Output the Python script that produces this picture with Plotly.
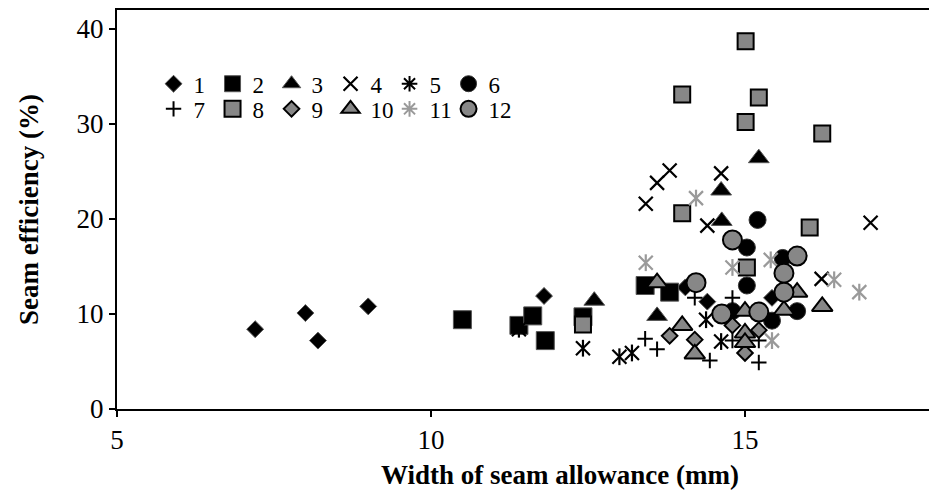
import plotly.graph_objects as go

# ---------------- data ----------------
names = ["1", "2", "3", "4", "5", "6", "7", "8", "9", "10", "11", "12"]

x1 = [7.2, 8.0, 8.2, 9.0, 11.8, 14.05, 14.4, 15.43]
y1 = [8.4, 10.1, 7.2, 10.8, 11.9, 12.8, 11.3, 11.7]

x2 = [10.5, 11.4, 11.62, 11.82, 12.42, 13.41, 13.8]
y2 = [9.4, 8.8, 9.8, 7.2, 9.7, 13.0, 12.3]

x3 = [12.6, 13.6, 14.62, 14.63, 15.22]
y3 = [11.4, 9.8, 23.0, 19.8, 26.4]

x4 = [13.42, 13.6, 13.8, 14.62, 14.4, 16.22, 17.0]
y4 = [21.6, 23.8, 25.1, 24.8, 19.3, 13.7, 19.6]

x5 = [11.4, 12.42, 13.0, 13.2, 14.38, 14.62]
y5 = [8.4, 6.4, 5.5, 5.9, 9.4, 7.1]

x6 = [15.2, 15.03, 15.03, 15.6, 15.83, 15.43, 14.8]
y6 = [19.9, 17.0, 13.0, 15.9, 10.3, 9.3, 10.3]

x7 = [13.41, 13.6, 14.2, 14.44, 14.8, 14.8, 15.22, 15.22]
y7 = [7.4, 6.3, 11.7, 5.1, 11.7, 7.2, 7.2, 4.9]

x8 = [15.01, 14.0, 15.22, 15.01, 16.23, 14.0, 16.03, 15.03, 12.42]
y8 = [38.7, 33.1, 32.8, 30.2, 29.0, 20.6, 19.1, 14.9, 8.9]

x9 = [13.8, 14.2, 14.8, 15.22, 15.0]
y9 = [7.7, 7.3, 8.8, 8.3, 5.9]

x10 = [13.6, 14.0, 14.2, 15.0, 15.0, 15.0, 15.62, 15.83, 16.23]
y10 = [13.3, 8.8, 5.8, 10.3, 8.0, 7.0, 10.4, 12.3, 10.8]

x11 = [13.42, 14.22, 14.8, 15.41, 16.42, 16.82, 15.43]
y11 = [15.4, 22.2, 14.9, 15.7, 13.6, 12.3, 7.2]

x12 = [14.8, 15.83, 15.62, 15.62, 15.22, 14.63, 14.22]
y12 = [17.8, 16.1, 14.3, 12.3, 10.2, 10.0, 13.3]

xs = [x1, x2, x3, x4, x5, x6, x7, x8, x9, x10, x11, x12]
ys = [y1, y2, y3, y4, y5, y6, y7, y8, y9, y10, y11, y12]

x_ticks = [5, 10, 15]
y_ticks = [0, 10, 20, 30, 40]

# ---------------- styles ----------------
BLK = "#000000"
GRY = "#878787"
GRY_AST = "#9a9a9a"
FONT = "Liberation Serif"

styles = [
    dict(symbol="diamond", size=13, color=BLK, line=dict(color="#555555", width=1)),
    dict(symbol="square", size=18, color=BLK, line=dict(color="#555555", width=1)),
    dict(symbol="triangle-up", size=18, color=BLK, line=dict(color="#555555", width=1)),
    dict(symbol="x-thin-open", size=14, color=BLK, line=dict(color=BLK, width=2.2)),
    "ast_black",
    dict(symbol="circle", size=17, color=BLK, line=dict(color="#333333", width=1)),
    dict(symbol="cross-thin-open", size=11, color=BLK, line=dict(color=BLK, width=2)),
    dict(symbol="square", size=16, color=GRY, line=dict(color=BLK, width=2)),
    dict(symbol="diamond", size=12, color=GRY, line=dict(color=BLK, width=2)),
    dict(symbol="triangle-up", size=18, color=GRY, line=dict(color=BLK, width=2)),
    "ast_gray",
    dict(symbol="circle", size=19, color=GRY, line=dict(color=BLK, width=2)),
]

fig = go.Figure()

for i, (nm, xv, yv, st) in enumerate(zip(names, xs, ys, styles)):
    leg = "legend" if i < 6 else "legend2"
    if isinstance(st, str):
        col = BLK if st == "ast_black" else GRY_AST
        # six-armed asterisk = X + vertical bar
        fig.add_trace(go.Scatter(
            x=xv, y=yv, mode="markers", showlegend=False, legendgroup=nm,
            marker=dict(symbol="x-thin-open", size=14, color=col,
                        line=dict(color=col, width=2.2)),
            hoverinfo="x+y"))
        fig.add_trace(go.Scatter(
            x=xv, y=yv, mode="markers", showlegend=False, legendgroup=nm,
            marker=dict(symbol="line-ns-open", size=12, color=col,
                        line=dict(color=col, width=2.2)),
            hoverinfo="skip"))
        # legend proxy
        fig.add_trace(go.Scatter(
            x=[None], y=[None], mode="markers", name=nm, legendgroup=nm, legend=leg,
            marker=dict(symbol="asterisk-open", size=13, color=col,
                        line=dict(color=col, width=2))))
    else:
        fig.add_trace(go.Scatter(
            x=xv, y=yv, mode="markers", name=nm, legend=leg, legendgroup=nm,
            marker=st))

# invisible spacer entry so the last label of row 2 is not clipped
fig.add_trace(go.Scatter(
    x=[None], y=[None], mode="markers", name=" ", legend="legend2",
    marker=dict(color="rgba(0,0,0,0)", size=1, line=dict(width=0)),
    hoverinfo="skip"))

legend_common = dict(
    orientation="h", xanchor="left", yanchor="top",
    entrywidth=14, entrywidthmode="pixels",
    font=dict(family=FONT, size=23, color="black"),
    bgcolor="rgba(0,0,0,0)", itemclick=False, itemdoubleclick=False,
    tracegroupgap=0,
)

fig.update_layout(
    width=929, height=492,
    margin=dict(l=117, r=0, t=10, b=83),
    paper_bgcolor="white", plot_bgcolor="white",
    font=dict(family=FONT, size=27, color="black"),
    legend=dict(legend_common, x=0.045, y=0.869),
    legend2=dict(legend_common, x=0.045, y=0.806),
    xaxis=dict(
        range=[5, 17.93], tickvals=x_ticks, ticks="outside", ticklen=6, tickwidth=2,
        tickcolor="black", showline=True, linewidth=2, linecolor="black", mirror=True,
        showgrid=False, zeroline=False,
        tickfont=dict(family=FONT, size=27, color="black"),
    ),
    yaxis=dict(
        range=[0, 42], tickvals=y_ticks, ticks="outside", ticklen=6, tickwidth=2,
        tickcolor="black", showline=True, linewidth=2, linecolor="black",
        showgrid=False, zeroline=False,
        tickfont=dict(family=FONT, size=27, color="black"),
        title=dict(text="<b>Seam efficiency (%)</b>",
                   font=dict(family=FONT, size=27, color="black"), standoff=30),
    ),
    annotations=[dict(
        text="<b>Width of seam allowance (mm)</b>", xref="paper", yref="paper",
        x=0.5456, y=-0.165, xanchor="center", yanchor="middle", showarrow=False,
        font=dict(family=FONT, size=27, color="black"))],
)

fig.write_html("out.html")
